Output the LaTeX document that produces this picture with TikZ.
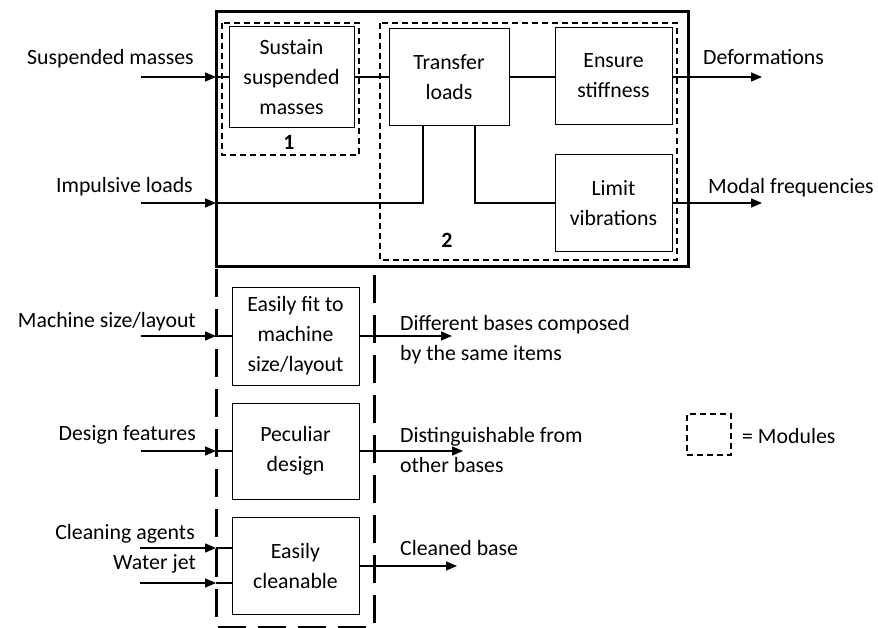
\documentclass[tikz,border=0pt]{standalone}
\usepackage{fontspec}
\setmainfont{Carlito}
\usetikzlibrary{arrows.meta}
\begin{document}
\begin{tikzpicture}[x=1pt,y=-1pt,
  every node/.style={font=\fontsize{21.8}{30}\selectfont},
  fbox/.style={draw, line width=0.9pt, align=center, inner sep=0pt},
  arr/.style={-{Triangle[length=11pt,width=9pt]}, line width=1.3pt},
  conn/.style={line width=1.3pt},
  module/.style={draw, line width=1.3pt, dash pattern=on 6pt off 4pt},
  thickdash/.style={line width=3pt, dash pattern=on 28pt off 12pt},
  lbl/.style={inner sep=0pt}]
\useasboundingbox (0,0) rectangle (878,628);
% outer box and modules
\draw[line width=3pt] (216,12) rectangle (688,267);
\draw[module] (222,23) rectangle (359,155);
\draw[module] (380,23) rectangle (677,260);
\draw[thickdash] (216,269) -- (216,627) -- (374,627) -- (374,269);
% function boxes
\node[fbox, minimum width=125pt, minimum height=101pt] (sustain) at (291.5,77) {Sustain\\suspended\\masses};
\node[fbox, minimum width=120pt, minimum height=97pt] (transfer) at (449,77) {Transfer\\loads};
\node[fbox, minimum width=117pt, minimum height=97pt] (ensure) at (613.5,76) {Ensure\\stiffness};
\node[fbox, minimum width=117pt, minimum height=97pt] (limit) at (613.5,203) {Limit\\vibrations};
\node[fbox, minimum width=127pt, minimum height=98pt] (fit) at (295.5,336) {Easily fit to\\machine\\size/layout};
\node[fbox, minimum width=127pt, minimum height=96pt] (peculiar) at (295.5,451) {Peculiar\\design};
\node[fbox, minimum width=127pt, minimum height=97pt] (clean) at (295.5,566) {Easily\\cleanable};
\node[lbl, font=\fontsize{21.8}{30}\selectfont\bfseries] (m1) at (289,142) {1};
\node[lbl, font=\fontsize{21.8}{30}\selectfont\bfseries] (m2) at (447,240) {2};
% texts
\node[lbl, anchor=base east] (tsusp) at (194,65) {Suspended masses};
\node[lbl, anchor=base east] (timp) at (193,193) {Impulsive loads};
\node[lbl, anchor=base west] (tdef) at (703,65) {Deformations};
\node[lbl, anchor=base west] (tmod) at (708,194) {Modal frequencies};
\node[lbl, anchor=base east] (tmach) at (196,327) {Machine size/layout};
\node[lbl, anchor=base east] (tdes) at (196,440) {Design features};
\node[lbl, anchor=base east] (tcla) at (195,539) {Cleaning agents};
\node[lbl, anchor=base east] (twat) at (196,569) {Water jet};
\node[lbl, anchor=west, align=left] (tdiff) at (400,340) {Different bases composed\\by the same items};
\node[lbl, anchor=west, align=left] (tdist) at (400,450) {Distinguishable from\\other bases};
\node[lbl, anchor=base west] (tclb) at (400,555) {Cleaned base};
\node[module, minimum width=44pt, minimum height=41pt, inner sep=0pt] (legend) at (709,434.5) {};
\node[lbl, anchor=base west] (tleg) at (742,443) {= Modules};
% coordinates
\coordinate (sIn) at (141,77);   \coordinate (sEdge) at (216,77);
\coordinate (iIn) at (141,203);  \coordinate (iEdge) at (216,203);
\coordinate (dOut) at (762,77);  \coordinate (mOut) at (762,203);
\coordinate (maIn) at (141,336); \coordinate (maEdge) at (216,336);
\coordinate (deIn) at (141,451); \coordinate (deEdge) at (216,451);
\coordinate (caIn) at (140,548); \coordinate (caEdge) at (216,548);
\coordinate (wjIn) at (140,583); \coordinate (wjEdge) at (216,583);
\coordinate (fOut) at (452,336); \coordinate (pOut) at (463,451); \coordinate (cOut) at (457,566);
% connectors
\draw[arr] (sIn) -- (sEdge);
\draw[conn] (sEdge) -- (sustain.west);
\draw[conn] (sustain.east) -- (transfer.west);
\draw[conn] (transfer.east) -- (ensure.west |- transfer.east);
\draw[arr] (ensure.east |- dOut) -- (dOut);
\draw[arr] (iIn) -- (iEdge);
\draw[conn] (iEdge) -| ([xshift=-26pt]transfer.south);
\draw[conn] ([xshift=26pt]transfer.south) |- (limit.west);
\draw[arr] (limit.east) -- (mOut);
\draw[arr] (maIn) -- (maEdge);
\draw[conn] (maEdge) -- (fit.west);
\draw[arr] (fit.east) -- (fOut);
\draw[arr] (deIn) -- (deEdge);
\draw[conn] (deEdge) -- (peculiar.west);
\draw[arr] (peculiar.east) -- (pOut);
\draw[arr] (caIn) -- (caEdge);
\draw[conn] (caEdge) -- (clean.west |- caEdge);
\draw[arr] (wjIn) -- (wjEdge);
\draw[conn] (wjEdge) -- (clean.west |- wjEdge);
\draw[arr] (clean.east) -- (cOut);
\end{tikzpicture}
\end{document}
